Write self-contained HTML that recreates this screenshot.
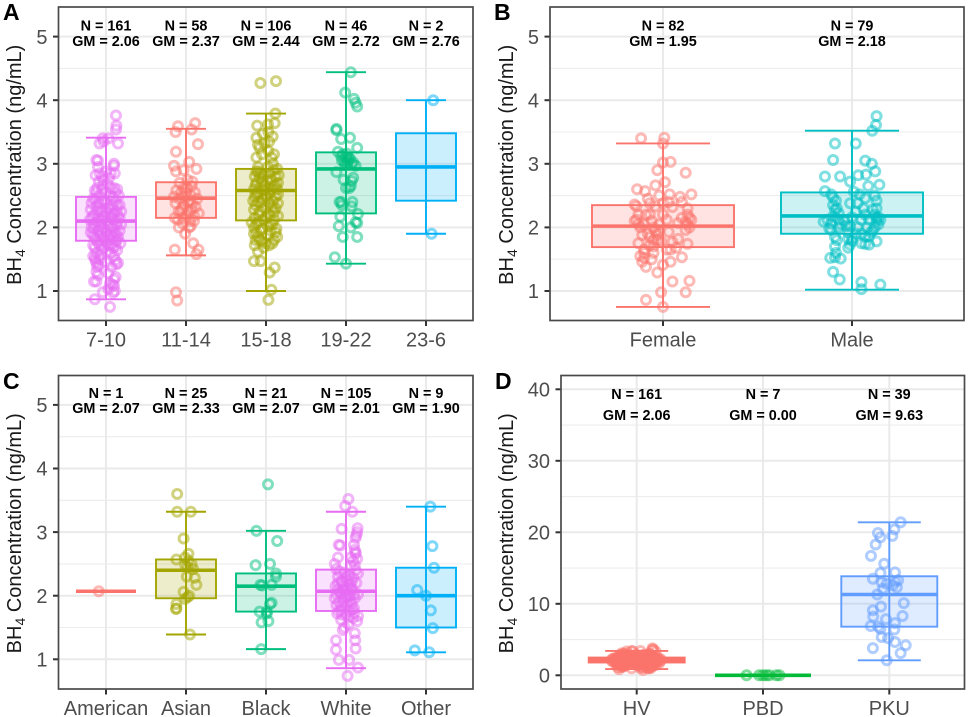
<!DOCTYPE html>
<html>
<head>
<meta charset="utf-8">
<title>BH4 Concentration Boxplots</title>
<style>
html,body{margin:0;padding:0;background:#fff;}
svg{display:block;font-family:"Liberation Sans",Arial,sans-serif;}
</style>
</head>
<body>
<svg id="figure" width="969" height="717" viewBox="0 0 969 717" xmlns="http://www.w3.org/2000/svg"></svg>
<script>
// ---- Panel A: age groups ----
const ageCategories = ['7-10','11-14','15-18','19-22','23-6'];
const ageCounts = ['N = 161','N = 58','N = 106','N = 46','N = 2'];
const ageMeans = ['GM = 2.06','GM = 2.37','GM = 2.44','GM = 2.72','GM = 2.76'];
const ageBoxes = [[0.87,1.79,2.1,2.48,3.41],[1.56,2.15,2.46,2.71,3.55],[1.0,2.11,2.58,2.92,3.79],[1.43,2.22,2.92,3.18,4.44],[1.9,2.42,2.95,3.48,4.0]];
const age7to10 = [[.125,3.76],[.13,3.6],[.125,3.54],[-.04,3.4],[-.03,3.35],[.15,3.32],[-.08,3.32],[.03,3.4],[-.12,3.06],[-.1,3.05],[.1,3.0],[.1,2.97],[.11,2.85],[-.08,2.85],[-.13,2.82],[-.05,2.8],[-.03,2.75],[.04,2.78],[-.09,2.72],[.02,2.68],[-.14,2.58],[.14,2.6],[.1,2.62],[-.05,2.6],[-.16,2.45],[.16,2.5],[.05,2.5],[-.08,2.5],[.12,2.42],[-.18,2.38],[.17,2.35],[-.03,2.42],[.08,2.35],[-.12,2.33],[.02,2.3],[-.19,2.28],[.19,2.25],[.13,2.25],[-.07,2.25],[-.15,2.2],[.06,2.2],[-.02,2.18],[.17,2.15],[-.1,2.15],[.1,2.12],[-.2,2.12],[.02,2.1],[-.06,2.08],[.19,2.05],[-.15,2.05],[.13,2.03],[-.18,2],[.05,2],[-.03,1.98],[.17,1.95],[-.1,1.95],[.1,1.92],[-.19,1.92],[.01,1.88],[-.07,1.87],[.15,1.85],[-.14,1.84],[.06,1.82],[-.02,1.8],[.12,1.78],[-.1,1.76],[.18,1.75],[.03,1.72],[-.16,1.72],[.09,1.68],[-.05,1.66],[.14,1.64],[-.12,1.6],[.02,1.62],[-.16,1.55],[-.14,1.52],[.12,1.48],[.15,1.44],[-.08,1.5],[-.12,1.44],[.13,1.42],[-.09,1.4],[.07,1.38],[-.1,1.25],[.12,1.22],[-.15,1.15],[-.12,1.15],[.05,1.12],[.1,1.08],[.03,1.03],[.11,1.0],[-.04,.98],[.09,.97],[-.14,.87],[.05,.75],[-.04,2.66],[.06,2.62],[-.11,2.62],[.12,2.55],[-.12,2.55],[-.01,2.55],[.09,2.47],[-.13,2.44],[0,2.38],[.14,2.34],[-.09,2.38],[.05,2.3],[-.05,2.3],[.1,2.22],[-.11,2.26],[0,2.24],[.15,2.18],[-.17,2.17],[.07,2.15],[-.05,2.12],[.14,2.08],[-.12,2.08],[.03,2.05],[-.08,2.02],[.09,2],[-.15,1.98],[0,1.94],[.13,1.9],[-.06,1.92],[-.16,1.88],[.06,1.87],[.1,1.85],[-.03,1.84],[-.12,1.8],[.14,1.8],[0,1.76],[-.08,1.72],[.07,1.72],[.12,1.7],[-.14,1.68],[-.02,1.7],[.06,1.6],[-.08,1.56],[.1,1.55],[-.13,1.48],[0,1.45],[-.11,1.38],[.03,1.28],[.1,1.18],[-.12,1.3],[.08,1.1],[0,2.88],[-.1,2.95],[.06,2.85]];
const age11to14 = [[-.1,3.59],[.115,3.64],[-.13,3.5],[.07,3.54],[.15,3.31],[-.125,3.19],[-.15,2.97],[.04,3.03],[-.125,2.88],[.13,2.92],[-.03,2.9],[.08,2.72],[-.08,2.7],[.02,2.75],[-.12,2.58],[.07,2.65],[-.03,2.62],[.11,2.55],[-.15,2.48],[0,2.55],[.14,2.45],[-.08,2.45],[.05,2.42],[-.13,2.38],[.12,2.32],[-.03,2.35],[.16,2.22],[-.06,2.26],[.07,2.28],[-.14,2.15],[.02,2.2],[.1,2.18],[-.1,2.12],[.05,2.1],[-.04,2.06],[.06,2.02],[-.09,2],[-.01,1.9],[.04,2],[.09,1.75],[-.14,1.65],[.155,1.65],[.13,1.58],[-.125,.98],[-.11,.85],[.03,2.4],[-.05,2.3],[.08,2.38],[-.02,2.48],[.06,2.5],[-.09,2.25],[.03,2.25],[-.03,2.15],[.1,2.1],[-.06,2.55],[.01,2.62]];
const age15to18 = [[-.07,4.27],[.125,4.3],[.117,3.79],[-.11,3.6],[.025,3.62],[.108,3.64],[.083,3.43],[-.12,3.41],[-.04,3.47],[-.1,3.3],[-.02,3.32],[.04,3.35],[.087,3],[-.1,2.95],[-.12,2.88],[.16,2.82],[.14,2.92],[-.14,2.8],[-.07,2.85],[.02,2.95],[.1,2.9],[-.12,2.7],[.15,2.7],[.02,2.75],[-.05,2.72],[.09,2.65],[-.15,2.6],[.14,2.6],[-.02,2.58],[-.1,2.55],[.05,2.55],[.12,2.48],[-.14,2.48],[-.16,2.42],[.01,2.46],[-.06,2.4],[.15,2.38],[-.15,2.28],[.08,2.32],[.15,2.18],[-.08,2.25],[-.14,2.15],[.03,2.2],[.1,2.12],[-.03,2.12],[.08,2.05],[-.1,2.08],[-.18,2.08],[.12,1.92],[-.15,2],[-.12,1.92],[.06,1.95],[-.05,1.98],[.14,1.85],[-.1,1.85],[.02,1.88],[.1,1.8],[-.13,1.8],[-.05,1.78],[.04,1.72],[-.1,1.62],[-.15,1.47],[-.067,1.47],[.108,1.37],[.046,1.29],[.067,1.02],[.03,.86],[-.1,2.88],[.04,2.85],[-.03,2.82],[.12,2.8],[-.08,2.78],[.07,2.74],[-.13,2.66],[.12,2.66],[-.01,2.66],[-.08,2.62],[.06,2.6],[.15,2.52],[-.12,2.52],[0,2.5],[-.04,2.45],[.09,2.42],[-.1,2.4],[.04,2.38],[-.13,2.35],[.12,2.3],[-.01,2.3],[-.09,2.2],[.1,2.24],[0,2.16],[-.12,2.05],[.05,2.05],[.02,2.02],[-.07,1.95],[.13,1.98],[-.15,1.9],[-.08,1.8],[0,1.75],[-.14,1.72],[.08,1.75],[-.03,1.68],[.07,3.1],[-.05,3.15],[.03,3.2],[-.12,3.1],[.1,3.15],[-.08,3.25],[.03,3.5]];
const age19to22 = [[.06,4.44],[-.01,4.12],[.1,4.02],[.12,3.96],[.14,3.9],[-.12,3.55],[-.12,3.53],[-.06,3.39],[.05,3.41],[.14,3.25],[-.1,3.19],[-.06,3.12],[.03,3.1],[.09,3.02],[.12,2.97],[.02,3.05],[.07,3],[-.04,3.15],[-.02,3.03],[.01,3.16],[-.12,2.87],[-.03,2.75],[.09,2.78],[.07,2.73],[0,2.62],[-.06,2.4],[-.08,2.4],[.08,2.4],[.07,2.33],[-.07,2.17],[.15,2.21],[.14,2.07],[.12,2.08],[-.09,2.02],[.06,2],[-.04,1.85],[.14,1.85],[-.14,1.53],[0,1.43],[0,3.1],[.02,3],[-.05,3.05],[.05,3.08],[-.01,2.98],[.04,2.62],[-.05,2.35],[.06,2.65]];
const age23to6 = [[.09,4.0],[.07,1.9]];
// ---- Panel B: sex ----
const sexCategories = ['Female','Male'];
const sexCounts = ['N = 82','N = 79'];
const sexMeans = ['GM = 1.95','GM = 2.18'];
const sexBoxes = [[.75,1.69,2.02,2.35,3.32],[1.02,1.9,2.18,2.55,3.52]];
const sexFemale = [[-.116,3.4],[.007,3.41],[0,3.32],[.04,3.03],[0,3.02],[-.03,2.9],[.12,2.86],[.01,2.71],[-.04,2.66],[-.137,2.6],[-.095,2.57],[-.08,2.45],[.035,2.52],[.09,2.48],[.15,2.52],[-.14,2.33],[-.15,2.36],[-.04,2.33],[0,2.38],[.05,2.32],[.1,2.4],[.13,2.3],[.13,2.2],[-.07,2.2],[-.14,2.12],[-.15,2.1],[-.13,2.05],[.15,2.12],[.13,2.05],[.08,2.07],[-.02,2.05],[-.12,2],[-.06,2.1],[.12,1.96],[.14,2],[.03,1.93],[-.04,1.94],[-.11,1.88],[-.07,1.85],[-.03,1.88],[-.05,1.8],[.08,1.82],[.05,1.77],[-.13,1.75],[-.01,1.78],[.13,1.74],[-.07,1.72],[.04,1.65],[-.1,1.6],[-.05,1.6],[-.1,1.52],[-.11,1.46],[.1,1.53],[.04,1.46],[0,1.41],[-.09,1.38],[-.03,1.29],[.05,1.15],[.14,1.16],[-.01,.98],[.12,.98],[-.09,.86],[0,.75],[-.09,2.2],[-.05,2],[-.02,1.95],[-.08,1.9],[-.05,1.7],[-.03,1.8],[.02,2.12],[.1,2.15],[.14,2.15],[.12,2.08],[-.13,2.2],[-.1,2.05],[-.06,1.5],[-.1,1.65],[-.12,1.55],[.02,1.65],[.07,1.68],[0,2.2],[.03,2.4],[-.02,2.5],[-.07,2.38]];
const sexMale = [[.13,3.75],[.127,3.61],[.107,3.52],[-.09,3.32],[.02,3.32],[-.1,3.06],[.07,3.05],[.105,3],[.123,2.88],[-.143,2.8],[-.063,2.8],[.033,2.82],[.074,2.83],[-.01,2.72],[.145,2.67],[.086,2.65],[-.143,2.57],[-.11,2.52],[-.1,2.47],[-.085,2.42],[.01,2.56],[.04,2.52],[.07,2.46],[.12,2.5],[.13,2.42],[.03,2.38],[-.01,2.38],[.06,2.3],[.13,2.3],[-.08,2.3],[.14,2.16],[.13,2.1],[.12,2.2],[-.1,2.17],[-.13,2.12],[-.07,2.12],[0,2.16],[.05,2.12],[.09,2.12],[-.15,2.09],[-.04,2.1],[.14,2.05],[-.12,1.98],[-.07,2],[-.03,2.02],[.03,2],[.08,2],[.1,1.92],[-.11,1.96],[.02,1.9],[-.08,1.8],[0,1.82],[.07,1.85],[.13,1.78],[.09,1.73],[.07,1.74],[-.09,1.7],[-.02,1.68],[-.01,1.73],[-.085,1.6],[-.09,1.53],[-.115,1.52],[-.06,1.51],[-.1,1.3],[-.065,1.18],[.05,1.14],[.15,1.1],[.05,1.03],[-.1,2.35],[-.09,2.28],[-.07,2.22],[-.06,2.05],[-.02,1.92],[.05,1.9],[.09,1.86],[.12,2],[.15,2.12],[.13,2.15],[.11,2.28],[.07,2.2],[.02,2.25],[-.01,2.02],[0,1.78],[-.02,1.82],[.05,1.75],[-.09,1.85],[-.11,2.06],[.11,1.95]];
// ---- Panel C: race ----
const raceCategories = ['American','Asian','Black','White','Other'];
const raceCounts = ['N = 1','N = 25','N = 21','N = 105','N = 9'];
const raceMeans = ['GM = 2.07','GM = 2.33','GM = 2.07','GM = 2.01','GM = 1.90'];
const raceBoxes = [[2.07,2.07,2.07,2.07,2.07],[1.39,1.96,2.4,2.57,3.32],[1.16,1.75,2.15,2.35,3.02],[.86,1.76,2.07,2.41,3.32],[1.11,1.5,2.0,2.44,3.4]];
const raceAmerican = [[-.09,2.07]];
const raceAsian = [[-.11,3.6],[-.11,3.32],[.06,3.32],[-.03,2.9],[.03,2.66],[-.12,2.57],[-.01,2.6],[.07,2.5],[-.01,2.48],[.09,2.42],[.01,2.3],[.11,2.28],[.13,2.17],[-.03,2.06],[.04,2],[-.01,1.95],[.02,1.98],[-.12,1.87],[-.12,1.8],[-.125,1.79],[.05,1.39],[.03,2.55],[.02,2.45]];
const raceBlack = [[.025,3.75],[-.12,3.02],[.14,2.86],[-.13,2.48],[.05,2.5],[.125,2.35],[.125,2.3],[-.07,2.17],[-.05,2.16],[.07,2.17],[.07,1.89],[.05,1.87],[-.08,1.75],[.01,1.75],[.01,1.72],[.03,1.6],[-.055,1.58],[-.06,1.16]];
const raceWhite = [[.03,3.52],[-.01,3.41],[.08,3.32],[-.055,3.05],[.145,3.06],[.14,3],[.12,2.91],[-.09,2.8],[-.07,2.79],[.11,2.72],[.12,2.68],[.14,2.58],[-.14,2.5],[-.12,2.42],[.06,2.47],[.15,2.35],[-.08,2.38],[.04,2.32],[.12,2.4],[-.02,2.36],[-.1,2.3],[.09,2.28],[.02,2.25],[-.06,2.22],[.13,2.2],[-.13,2.15],[.05,2.18],[-.03,2.15],[.08,2.1],[-.1,2.1],[.01,2.08],[.15,2.02],[-.06,2.03],[.05,2],[-.14,1.96],[.11,1.96],[-.02,1.96],[-.09,1.9],[.07,1.88],[-.12,1.85],[.01,1.85],[.1,1.8],[-.06,1.78],[.04,1.76],[-.11,1.72],[.15,1.68],[0,1.7],[.09,1.65],[-.06,1.62],[.14,1.6],[.03,1.55],[-.04,1.46],[-.02,1.5],[.11,1.41],[-.125,1.3],[.115,1.3],[.12,1.17],[-.125,1.15],[-.09,.99],[.04,.99],[.15,.87],[.02,.74],[0,2.3],[-.04,2.1],[.06,2.12],[.03,1.98],[-.08,2.05],[.1,2.02],[-.12,2.02],[-.03,1.9],[.05,1.92],[-.05,2.22],[.07,2.22],[-.1,2.2],[0,2],[-.02,2.08],[.02,2.14],[-.06,1.84],[.08,1.78],[-.09,1.76],[.03,1.66],[-.05,1.7],[.1,1.72],[.12,2.66],[.09,2.55],[.11,2.48],[.06,2.6],[-.1,2.6],[.13,2.95],[.1,2.8]];
const raceOther = [[.055,3.4],[.08,2.78],[.1,2.44],[-.11,2.09],[0,2],[.06,1.77],[.085,1.49],[-.14,1.14],[.04,1.11]];
// ---- Panel D: diagnosis ----
const groupCategories = ['HV','PBD','PKU'];
const groupCounts = ['N = 161','N = 7','N = 39'];
const groupMeans = ['GM = 2.06','GM = 0.00','GM = 9.63'];
const groupBoxes = [[.87,1.79,2.1,2.48,3.41],[0,0,0,0,0],[2.1,6.8,11.3,13.85,21.4]];
const groupPBD = [[-.13,0],[-.03,0],[0,0],[.026,0],[.05,0],[.105,0],[.13,0]];
const groupPKU = [[.09,21.4],[.04,20.4],[-.09,19.9],[-.07,19.3],[.024,19.5],[-.108,18.3],[-.145,16.7],[-.04,15.6],[-.07,14.3],[.045,14.4],[-.13,13.5],[.07,13.3],[-.06,13],[-.02,12.8],[.03,12.6],[.06,12.3],[-.05,12.1],[.045,13.1],[-.095,11.3],[.115,10.1],[-.066,9.6],[-.13,9.1],[-.127,8.2],[.105,8.3],[-.026,7.85],[.045,7.3],[-.147,6.9],[-.087,6.8],[-.07,6.5],[.04,6.4],[-.06,5.35],[-.01,5.2],[.045,4.65],[.13,4.2],[-.13,3.8],[.09,3.1],[-.02,2.1]];

const hue = {magenta:'#E76BF3',salmon:'#FB746C',olive:'#A3A500',green:'#00BF7D',sky:'#00B0F6',teal:'#00BFC4',lime:'#00BA38',blue:'#619CFF'};
const NS = 'http://www.w3.org/2000/svg';
const root = document.getElementById('figure');
function mk(parent, tag, props, text){
  const el = document.createElementNS(NS, tag);
  for (const k in props) el.setAttribute(k, props[k]);
  if (text !== undefined) el.textContent = text;
  parent.appendChild(el);
  return el;
}
function drawPanel(p){
  const g = mk(root,'g',{});
  
  
  const yOf = v => p.y0 - (v - p.v0) * p.yScale;
  const xOf = i => p.xFirst + i * p.xStep;
  // grid
  const grid = mk(g,'g',{});
  
  
  p.yMinor.forEach(v => mk(grid,'line',{x1:p.left,x2:p.right,y1:yOf(v),y2:yOf(v),stroke:'#EDEDED','stroke-width':1.1}));
  p.yTicks.forEach(v => mk(grid,'line',{x1:p.left,x2:p.right,y1:yOf(v),y2:yOf(v),stroke:'#EAEAEA','stroke-width':2}));
  p.cats.forEach((c,i) => mk(grid,'line',{x1:xOf(i),x2:xOf(i),y1:p.top,y2:p.bottom,stroke:'#EAEAEA','stroke-width':2}));
  // series
  p.cats.forEach((c,i) => {
    const col = p.colors[i], cx = xOf(i), b = p.boxes[i];
    const s = mk(g,'g',{});
    
    
    p.points[i].forEach(pt => {
      const dot = mk(s,'circle',{cx:cx + pt[0]*p.xStep,cy:yOf(pt[1]),r:4.5,fill:'none',stroke:col,'stroke-width':3,'stroke-opacity':.5});
      
      
    });
    const box = mk(s,'rect',{x:cx-p.boxHalf,y:yOf(b[3]),width:2*p.boxHalf,height:Math.max(0,yOf(b[1])-yOf(b[3])),fill:col,'fill-opacity':.2,stroke:col,'stroke-width':1.9});
    
    
    const whisker = mk(s,'line',{x1:cx,x2:cx,y1:yOf(b[4]),y2:yOf(b[0]),stroke:col,'stroke-width':1.9});
    
    
    [b[0],b[4]].forEach(v => {
      const cap = mk(s,'line',{x1:cx-p.capHalf,x2:cx+p.capHalf,y1:yOf(v),y2:yOf(v),stroke:col,'stroke-width':1.9});
      
      
    });
    const med = mk(s,'line',{x1:cx-p.boxHalf,x2:cx+p.boxHalf,y1:yOf(b[2]),y2:yOf(b[2]),stroke:col,'stroke-width':3.6});
    
    
    // annotations
    const n = mk(g,'text',{x:cx,y:p.nY,'text-anchor':'middle','font-size':p.annSize,'font-weight':'bold',fill:'#000'},p.counts[i]);
    
    
    const m = mk(g,'text',{x:cx,y:p.gmY,'text-anchor':'middle','font-size':p.annSize,'font-weight':'bold',fill:'#000'},p.means[i]);
    
    
    // x ticks
    mk(g,'line',{x1:cx,x2:cx,y1:p.bottom,y2:p.bottom+5.5,stroke:'#333','stroke-width':2});
    const xl = mk(g,'text',{x:cx,y:p.bottom+26,'text-anchor':'middle','font-size':20,fill:'#4D4D4D'},c);
    
    
  });
  // y ticks
  p.yTicks.forEach(v => {
    mk(g,'line',{x1:p.left-5.5,x2:p.left,y1:yOf(v),y2:yOf(v),stroke:'#333','stroke-width':2});
    const yl = mk(g,'text',{x:p.left-11,y:yOf(v)+7.2,'text-anchor':'end','font-size':20,fill:'#4D4D4D'},String(v));
    
    
  });
  // border
  const border = mk(g,'rect',{x:p.left,y:p.top,width:p.right-p.left,height:p.bottom-p.top,fill:'none',stroke:'#4a4a4a','stroke-width':1.7});
  
  
  // y title
  const tc = (p.top + p.bottom) / 2 + 1;
  const t = mk(g,'text',{transform:'translate('+p.titleX+','+tc+') rotate(-90)','text-anchor':'middle','font-size':20,fill:'#1a1a1a'});
  
  
  mk(t,'tspan',{},'BH');
  mk(t,'tspan',{dy:4,'font-size':14},'4');
  mk(t,'tspan',{dy:-4},' Concentration (ng/mL)');
  // letter
  const l = mk(g,'text',{x:p.letterX,y:p.letterY,'font-size':23,'font-weight':'bold',fill:'#000'},p.letter);
  
  
}
const ticks15 = [1,2,3,4,5], minors15 = [1.5,2.5,3.5,4.5];
drawPanel({letter:'A',letterX:3,letterY:20,titleX:21,left:58.5,right:473,top:7,bottom:320.5,y0:291,v0:1,yScale:63.6,xFirst:106,xStep:80,boxHalf:30,capHalf:20,nY:30.5,gmY:46,annSize:14.4,yTicks:ticks15,yMinor:minors15,cats:ageCategories,counts:ageCounts,means:ageMeans,boxes:ageBoxes,points:[age7to10,age11to14,age15to18,age19to22,age23to6],colors:[hue.magenta,hue.salmon,hue.olive,hue.green,hue.sky]});
drawPanel({letter:'B',letterX:494,letterY:20,titleX:513,left:550,right:964,top:7,bottom:320.5,y0:291,v0:1,yScale:63.6,xFirst:663,xStep:189,boxHalf:71,capHalf:47,nY:30.5,gmY:46,annSize:14.4,yTicks:ticks15,yMinor:minors15,cats:sexCategories,counts:sexCounts,means:sexMeans,boxes:sexBoxes,points:[sexFemale,sexMale],colors:[hue.salmon,hue.teal]});
drawPanel({letter:'C',letterX:3,letterY:389,titleX:21,left:58.5,right:473,top:375.5,bottom:689,y0:659.3,v0:1,yScale:63.6,xFirst:106,xStep:80,boxHalf:30,capHalf:20,nY:398,gmY:413,annSize:14.4,yTicks:ticks15,yMinor:minors15,cats:raceCategories,counts:raceCounts,means:raceMeans,boxes:raceBoxes,points:[raceAmerican,raceAsian,raceBlack,raceWhite,raceOther],colors:[hue.salmon,hue.olive,hue.green,hue.magenta,hue.sky]});
drawPanel({letter:'D',letterX:495,letterY:389,titleX:513,left:561,right:964.5,top:375.5,bottom:689,y0:675.3,v0:0,yScale:7.15,xFirst:636.7,xStep:126.3,boxHalf:48,capHalf:31.5,nY:399,gmY:420,annSize:14.4,yTicks:[0,10,20,30,40],yMinor:[5,15,25,35],cats:groupCategories,counts:groupCounts,means:groupMeans,boxes:groupBoxes,points:[age7to10,groupPBD,groupPKU],colors:[hue.salmon,hue.lime,hue.blue]});
</script>
</body>
</html>
